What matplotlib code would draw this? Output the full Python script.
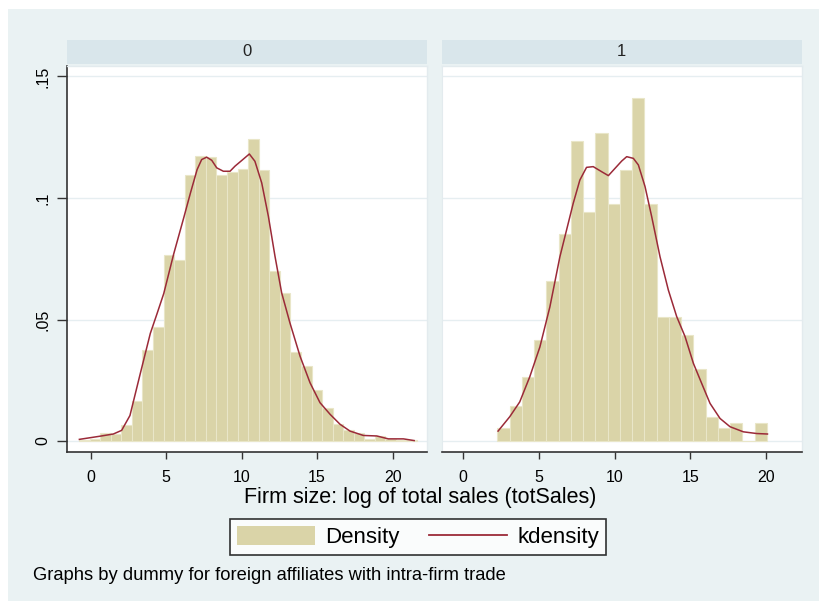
import numpy as np
import matplotlib
matplotlib.use('Agg')
from matplotlib import pyplot as plt
from matplotlib.patches import Rectangle
from matplotlib.lines import Line2D

plt.rcParams['font.family'] = ['Liberation Sans', 'DejaVu Sans']

# histogram of group 0 (bins start at -0.77, width 0.70)
start0 = -0.77
width0 = 0.70
dens0 = [0.0005, 0.001, 0.0035, 0.003, 0.0065, 0.0163, 0.0373, 0.047, 0.0764, 0.0744,
         0.1093, 0.1173, 0.1168, 0.1094, 0.1107, 0.112, 0.1242, 0.1114, 0.070, 0.0609,
         0.0366, 0.0307, 0.0209, 0.0137, 0.0072, 0.0044, 0.0035, 0.001, 0.0021, 0.0008,
         0.0005, 0.0003]

# histogram of group 1 (bins start at 2.27, width 0.808)
start1 = 2.27
width1 = 0.808
dens1 = [0.0052, 0.0144, 0.0265, 0.0416, 0.066, 0.0852, 0.1236, 0.0944, 0.1266, 0.0974,
         0.1115, 0.141, 0.0974, 0.0509, 0.0509, 0.0436, 0.0295, 0.010, 0.0052, 0.0073,
         0.0, 0.0073]

# kernel density curves
kx0 = [-0.75, 0.62, 1.5, 2.05, 2.6, 3.29, 3.95, 4.4, 4.84, 5.5, 6.17, 6.61, 7.05, 7.35, 7.68,
       8.02, 8.35, 8.79, 9.23, 9.56, 10.0, 10.51, 10.88, 11.33, 11.77, 12.21, 12.65, 13.2,
       13.87, 14.53, 15.19, 15.86, 16.52, 17.18, 18.07, 18.95, 19.72, 20.72, 21.43]
ky0 = [0.0007, 0.002, 0.0029, 0.0044, 0.0105, 0.0279, 0.0443, 0.0525, 0.0607, 0.077, 0.092,
       0.1021, 0.1117, 0.1158, 0.1168, 0.1155, 0.1124, 0.111, 0.111, 0.1131, 0.1154, 0.1181,
       0.1151, 0.1062, 0.0925, 0.076, 0.061, 0.0486, 0.0349, 0.024, 0.0158, 0.011, 0.0069,
       0.0041, 0.0023, 0.0021, 0.0009, 0.0009, 0.0002]
kx1 = [2.31, 3.08, 3.74, 4.40, 5.07, 5.73, 6.39, 6.83, 7.27, 7.71, 8.15, 8.59, 9.15, 9.59,
       10.03, 10.47, 10.80, 11.24, 11.57, 12.01, 12.45, 13.0, 13.55, 14.10, 14.65, 15.20,
       15.75, 16.3, 16.96, 17.62, 18.5, 19.38, 20.09]
ky1 = [0.0041, 0.010, 0.0161, 0.0264, 0.0387, 0.0552, 0.0758, 0.0868, 0.0978, 0.1074, 0.1126,
       0.1129, 0.1108, 0.1092, 0.1122, 0.1152, 0.117, 0.1163, 0.1136, 0.1047, 0.0923, 0.0758,
       0.0621, 0.0512, 0.043, 0.032, 0.0237, 0.0155, 0.0093, 0.0059, 0.0038, 0.0031, 0.0029]

xticks = [0, 5, 10, 15, 20]
yticks = [0, 0.05, 0.1, 0.15]
ylabels = ['0', '.05', '.1', '.15']
groups = ['0', '1']

bg = '#eaf2f3'
strip = '#d9e6eb'
barc = '#dad4a8'
linec = '#9b2a38'

fig = plt.figure(figsize=(8.19, 6.01), dpi=100)
fig.patch.set_facecolor('white')
fig.patches.append(Rectangle((8 / 819, 0), 1, 1 - 9 / 601, transform=fig.transFigure,
                             facecolor=bg, edgecolor='none', zorder=-10))

W, H = 819, 601
boxes = [(67, 427, -1.57, 22.28), (442, 801.7, -1.39, 22.35)]
data = [(start0, width0, dens0, kx0, ky0), (start1, width1, dens1, kx1, ky1)]

for i in range(2):
    x1, x2, xl, xr = boxes[i]
    ax = fig.add_axes([x1 / W, 1 - 452 / H, (x2 - x1) / W, (452 - 66) / H])
    st, w, d, kx, ky = data[i]
    edges = st + w * np.arange(len(d))
    ax.bar(edges, d, width=w, align='edge', color=barc, edgecolor='#e9e6c8',
           linewidth=0.8, zorder=2)
    ax.plot(kx, ky, color=linec, lw=1.1, zorder=3)
    ax.set_xlim(xl, xr)
    ax.set_ylim(-0.0045, 0.1543)
    for yv in yticks:
        ax.axhline(yv, color='#e6eef1', lw=1, zorder=1)
    ax.set_xticks(xticks)
    ax.set_yticks(yticks)
    ax.tick_params(axis='x', length=5, width=1, labelsize=11.5, pad=8, color='#333333')
    for s in ['top', 'right']:
        ax.spines[s].set_color('#e3ebee')
        ax.spines[s].set_linewidth(1)
    ax.spines['bottom'].set_color('#333333')
    ax.spines['bottom'].set_linewidth(1.2)
    if i == 0:
        ax.set_yticklabels(ylabels, rotation=90, va='center')
        ax.tick_params(axis='y', length=7, width=1, labelsize=11.5, pad=5, color='#333333')
        ax.spines['left'].set_color('#333333')
        ax.spines['left'].set_linewidth(1.2)
    else:
        ax.tick_params(axis='y', length=0, labelleft=False)
        ax.spines['left'].set_color('#e3ebee')
    # strip header
    fig.patches.append(Rectangle((x1 / W, 1 - 64 / H), (x2 - x1) / W, 24 / H,
                                 transform=fig.transFigure, facecolor=strip,
                                 edgecolor='none'))
    fig.text((x1 + x2) / 2 / W, 1 - 52 / H, groups[i], ha='center', va='center',
             fontsize=12, color='#222222')

fig.text(420 / W, 1 - 497 / H, 'Firm size: log of total sales (totSales)', ha='center',
         va='center', fontsize=15.5)

# legend
handles = [Rectangle((0, 0), 1, 1, facecolor=barc, edgecolor='none'),
           Line2D([0], [0], color=linec, lw=1.3)]
leg = fig.legend(handles, ['Density', 'kdensity'], loc='center',
                 bbox_to_anchor=(418 / W, 1 - 537 / H), ncol=2, fontsize=16,
                 frameon=True, fancybox=False, edgecolor='black', handlelength=3.5,
                 handleheight=0.9, columnspacing=1.35, handletextpad=0.45,
                 borderpad=0.3, borderaxespad=0)
leg.get_frame().set_linewidth(1.2)
leg.get_frame().set_facecolor('white')

fig.text(33 / W, 1 - 576 / H, 'Graphs by dummy for foreign affiliates with intra-firm trade',
         ha='left', va='center', fontsize=13.2)

fig.savefig('out.png', dpi=100)
